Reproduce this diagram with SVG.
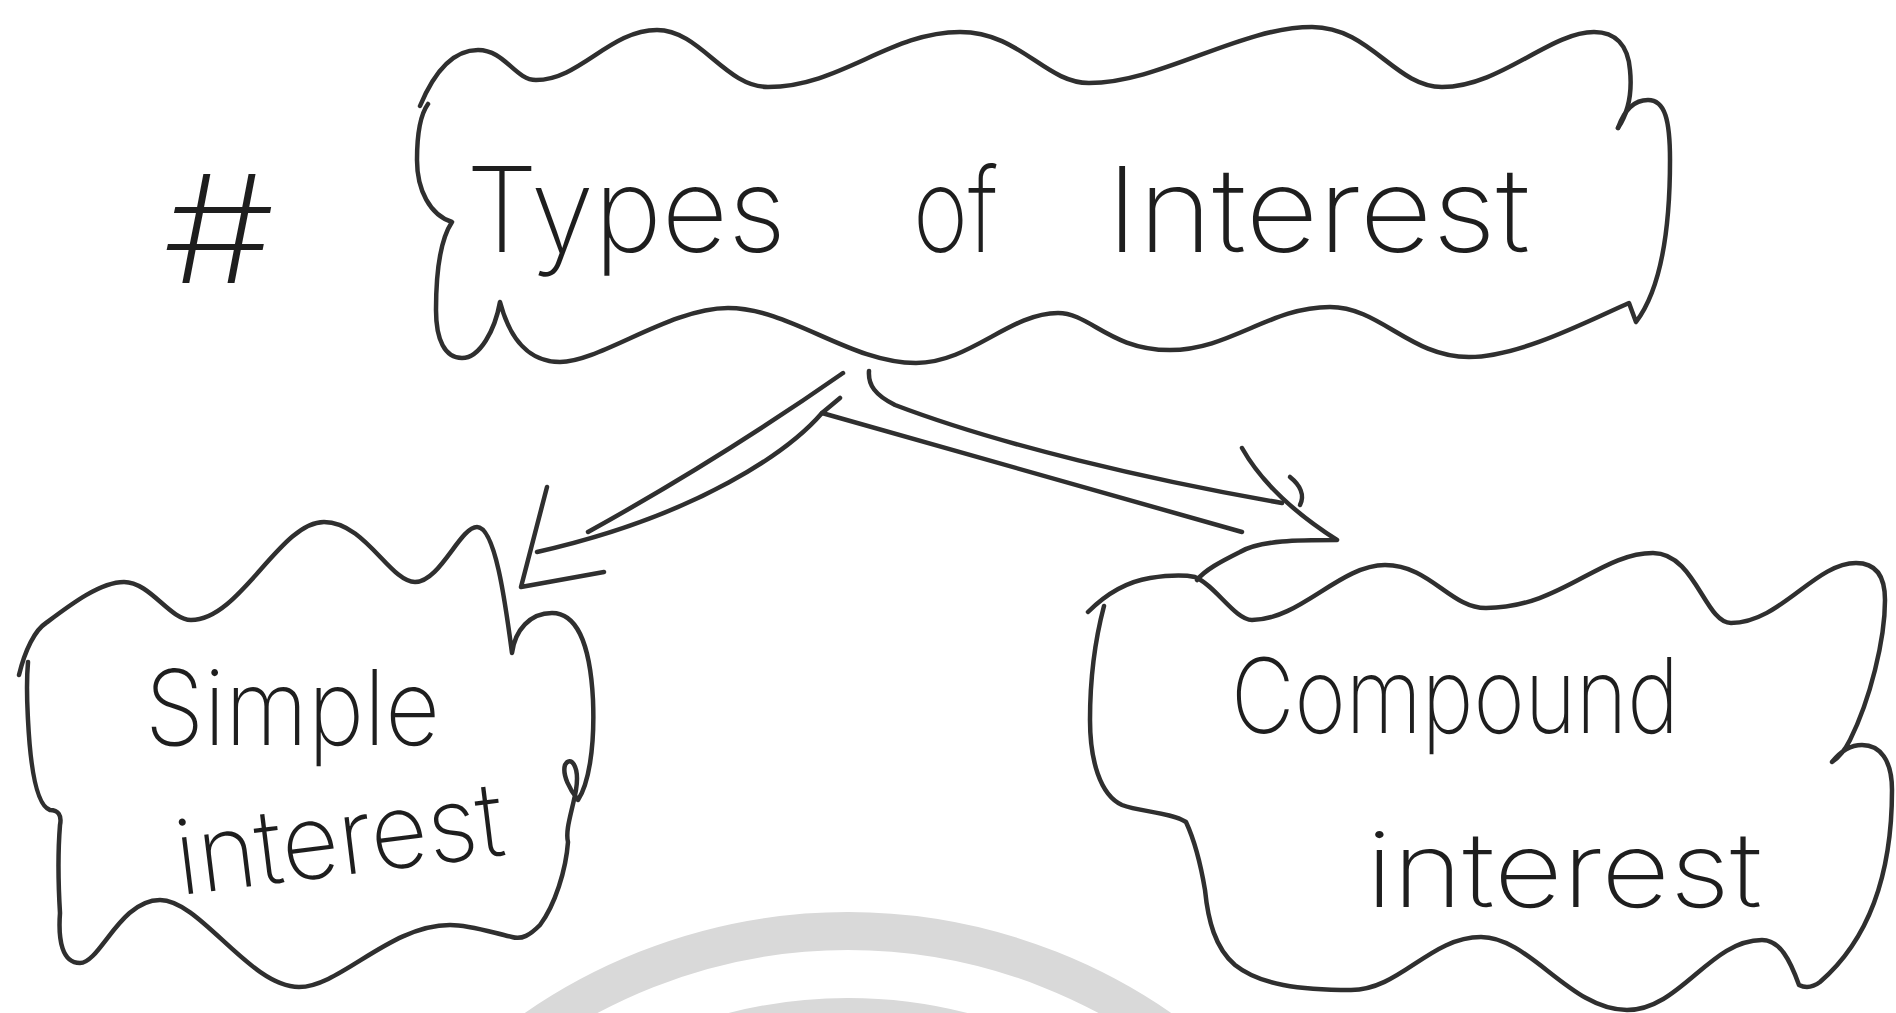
<svg xmlns="http://www.w3.org/2000/svg" width="1896" height="1013" viewBox="0 0 1896 1013">
<style>
.ink{fill:none;stroke:#2f2f2f;stroke-width:4.5;stroke-linecap:round;stroke-linejoin:round}
.wm{fill:none;stroke:#d9d9d9;stroke-width:38}
.lbl{font-family:Inter,'Liberation Sans',sans-serif;font-weight:200;fill:#1e1e1e}
</style>
<rect width="1896" height="1013" fill="#ffffff"/>
<g id="watermark">
<circle class="wm" cx="848" cy="1479" r="548"/>
<circle class="wm" cx="848" cy="1479" r="462"/>
</g>
<g id="hash">
<text class="lbl" x="163" y="283" font-size="150" textLength="112" lengthAdjust="spacingAndGlyphs">#</text>
</g>
<g id="types-of-interest">
<path class="ink" d="M420,106 C435,70 455,50 478,50 C505,50 515,80 536,80 C580,80 610,30 657,30 C700,30 725,87 768,87 C840,87 890,32 960,32 C1020,32 1045,83 1089,83 C1160,83 1240,27 1312,27 C1370,27 1395,87 1442,87 C1500,87 1550,32 1594,32 C1615,32 1628,45 1630,70 C1632,90 1630,110 1618,128"/>
<path class="ink" d="M1618,128 C1625,108 1635,100 1648,100 C1665,100 1670,120 1670,160 C1670,220 1664,285 1636,322 L1629,303 C1590,320 1520,357 1469,357 C1410,357 1380,307 1330,307 C1270,307 1230,350 1170,350 C1110,350 1090,313 1058,313 C1010,313 970,363 916,363 C850,363 790,308 728,308 C670,308 600,362 560,362 C530,362 510,340 500,302 C495,330 480,358 462,358 C445,358 436,340 436,310 C436,270 440,240 452,222 C430,215 417,190 417,160 C417,135 420,115 428,104"/>
<text class="lbl" x="466" y="252" font-size="118" textLength="320" lengthAdjust="spacingAndGlyphs">Types</text>
<text class="lbl" x="913" y="252" font-size="118" textLength="85" lengthAdjust="spacingAndGlyphs">of</text>
<text class="lbl" x="1106" y="252" font-size="118" textLength="424" lengthAdjust="spacingAndGlyphs">Interest</text>
</g>
<g id="simple-interest">
<path class="ink" d="M19,675 C25,650 35,630 46,623 C70,605 100,582 124,582 C150,582 170,620 191,620 C240,620 280,522 324,522 C365,522 390,582 415,582 C440,582 460,527 477,527 C495,527 505,600 512,653 C515,630 530,613 552,613 C575,613 590,640 593,700 C595,750 588,785 578,800 C570,790 562,775 565,765 C570,755 580,765 576,790 C572,812 565,830 568,842 C566,870 555,905 540,925 C530,935 522,940 512,937 C490,932 470,925 450,925 C390,925 340,987 299,987 C250,987 200,900 160,900 C120,900 100,963 80,963 C62,963 58,940 60,913 C58,880 58,850 60,825 C62,815 58,810 50,810 C35,805 30,760 28,720 C27,700 26,685 28,662"/>
<text class="lbl" x="145" y="745" font-size="104" textLength="295" lengthAdjust="spacingAndGlyphs">Simple</text>
<text class="lbl" x="180" y="895" font-size="104" textLength="330" lengthAdjust="spacingAndGlyphs" transform="rotate(-7 180 895)">interest</text>
</g>
<g id="compound-interest">
<path class="ink" d="M1088,612 C1105,595 1125,582 1150,578 C1170,575 1185,575 1195,577 C1215,585 1235,620 1252,620 C1300,620 1340,565 1385,565 C1430,565 1450,608 1486,608 C1560,608 1600,553 1653,553 C1695,553 1705,623 1731,623 C1780,623 1815,563 1856,563 C1875,563 1885,575 1885,600 C1885,640 1870,700 1850,740 C1845,750 1838,758 1832,762 C1840,752 1850,745 1862,745 C1880,745 1892,760 1892,790 C1892,850 1880,930 1820,982 C1812,988 1805,988 1799,985 C1790,960 1780,940 1762,940 C1710,940 1680,1010 1627,1010 C1570,1010 1530,937 1481,937 C1430,937 1400,990 1351,990 C1300,990 1260,985 1235,965 C1215,948 1208,920 1205,890 C1200,860 1192,835 1186,822 C1170,812 1140,812 1122,805 C1100,795 1090,760 1090,720 C1090,680 1095,640 1104,606"/>
<text class="lbl" x="1231" y="733" font-size="104" textLength="448" lengthAdjust="spacingAndGlyphs">Compound</text>
<text class="lbl" x="1366" y="907" font-size="104" textLength="396" lengthAdjust="spacingAndGlyphs">interest</text>
</g>
<g id="connectors">
<path class="ink" d="M843,373 C790,410 700,470 588,532"/>
<path class="ink" d="M840,398 L822,413 C790,450 700,515 537,552"/>
<path class="ink" d="M547,487 L521,587 L604,572"/>
<path class="ink" d="M869,371 C868,385 875,395 895,405 C1000,445 1150,480 1282,503"/>
<path class="ink" d="M822,413 L1242,532"/>
<path class="ink" d="M1242,448 C1260,480 1290,510 1337,540 C1300,540 1260,540 1240,552 C1220,562 1205,570 1197,580"/>
<path class="ink" d="M1290,477 C1300,485 1305,495 1300,505"/>
</g>
</svg>
